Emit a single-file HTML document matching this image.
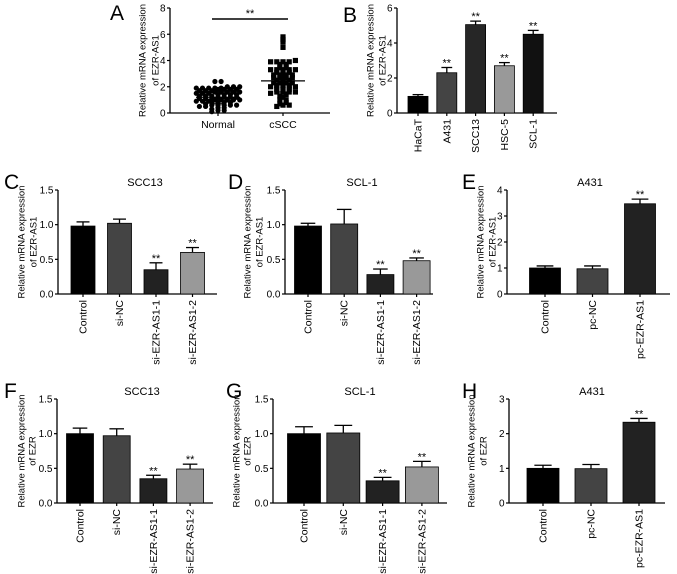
<!DOCTYPE html>
<html><head><meta charset="utf-8"><style>
html,body{margin:0;padding:0;background:#fff;}
svg{display:block;font-family:"Liberation Sans",Arial,sans-serif;}
</style></head><body>
<svg id="fig" width="677" height="574" viewBox="0 0 677 574"></svg>
<script>
// Panel A data
const normalVals=[0.1,0.2,0.2,0.3,0.4,0.4,0.5,0.5,0.6,0.6,0.6,0.6,0.6,0.7,0.8,0.8,0.8,0.8,0.9,0.9,0.9,1.0,1.0,1.0,1.0,1.0,1.1,1.1,1.1,1.2,1.2,1.2,1.2,1.3,1.3,1.3,1.4,1.4,1.4,1.4,1.5,1.5,1.5,1.6,1.6,1.6,1.6,1.6,1.7,1.7,1.7,1.8,1.8,1.8,1.8,1.9,1.9,1.9,1.9,1.9,2.0,2.0,2.0,2.4,2.4];
const csccVals=[0.5,0.6,0.6,0.7,0.8,1.0,1.0,1.2,1.3,1.4,1.5,1.6,1.6,1.6,1.6,1.8,1.8,1.8,2.0,2.0,2.0,2.0,2.0,2.1,2.1,2.1,2.3,2.3,2.3,2.3,2.5,2.5,2.5,2.7,2.7,2.7,2.7,2.9,2.9,2.9,2.9,3.1,3.1,3.1,3.3,3.3,3.3,3.3,3.3,3.5,3.5,3.7,3.7,3.9,3.9,3.9,3.9,4.0,5.0,5.4,5.6,5.8];
const groupsA=["Normal","cSCC"];
const meanA=[1.2,2.45];
const sdA=[0.5,0.85];
// Panel B
const catsB=["HaCaT","A431","SCC13","HSC-5","SCL-1"];
const valsB=[0.95,2.3,5.05,2.7,4.5];
const errB=[0.1,0.3,0.2,0.18,0.22];
const sigB=[false,true,true,true,true];
// Panels C/D/F/G
const catsSi=["Control","si-NC","si-EZR-AS1-1","si-EZR-AS1-2"];
const valsC=[0.98,1.02,0.35,0.6];
const errC=[0.06,0.06,0.1,0.07];
const valsD=[0.98,1.01,0.28,0.48];
const errD=[0.04,0.21,0.08,0.04];
const valsF=[1.0,0.97,0.35,0.49];
const errF=[0.08,0.1,0.05,0.07];
const valsG=[1.0,1.01,0.32,0.52];
const errG=[0.1,0.11,0.05,0.08];
// Panels E/H
const catsPc=["Control","pc-NC","pc-EZR-AS1"];
const valsE=[1.0,0.97,3.47];
const errE=[0.08,0.11,0.18];
const valsH=[1.0,0.99,2.33];
const errH=[0.09,0.12,0.11];
const sigSi=[false,false,true,true];
const sigPc=[false,false,true];
const ticks15=[0,0.5,1.0,1.5];
const ticks15Lbl=["0.0","0.5","1.0","1.5"];

const NS="http://www.w3.org/2000/svg";
const svg=document.getElementById('fig');
function el(tag,attrs,parent,text){const e=document.createElementNS(NS,tag);for(const k in attrs)e.setAttribute(k,attrs[k]);if(text!==undefined)e.textContent=text;(parent||svg).appendChild(e);return e;}

function axes(g,c){
  const y=v=>c.bot-(v/c.ymax)*(c.bot-c.top);
  let a=el('line',{x1:c.ax,y1:c.top,x2:c.ax,y2:c.bot,stroke:'#000','stroke-width':1.3},g);
  
  let b=el('line',{x1:c.ax,y1:c.bot,x2:c.end,y2:c.bot,stroke:'#000','stroke-width':1.3},g);
  
  c.ticks.forEach((t,i)=>{
    el('line',{x1:c.ax-3,y1:y(t),x2:c.ax,y2:y(t),stroke:'#000','stroke-width':1.2},g);
    let tl=el('text',{x:c.ax-4.5,y:y(t)+3.5,'font-size':10,'text-anchor':'end'},g,c.tickLbl[i]);
    
  });
  const mid=(c.top+c.bot)/2;
  let t1=el('text',{x:0,y:0,'font-size':9.5,'text-anchor':'middle',transform:`translate(${c.ax+c.off1+3.5},${mid}) rotate(-90)`},g,c.yl1);
  
  let t2=el('text',{x:0,y:0,'font-size':9.5,'text-anchor':'middle',transform:`translate(${c.ax+c.off2+3.5},${mid}) rotate(-90)`},g,c.yl2);
  
  return y;
}

function barPanel(c){
  const g=el('g',{},svg);
  
  const y=axes(g,c);
  let L=el('text',{x:c.lx,y:c.ly,'font-size':21},g,c.letter);
  
  if(c.title){let T=el('text',{x:c.tx,y:c.top-4,'font-size':11,'text-anchor':'middle'},g,c.title);
    }
  c.cats.forEach((cat,i)=>{
    const cx=c.x0+i*c.step, w=c.bw;
    const top=y(c.vals[i]), et=y(c.vals[i]+c.errs[i]);
    el('line',{x1:cx,y1:top,x2:cx,y2:et,stroke:'#000','stroke-width':1.3},g);
    el('line',{x1:cx-w*0.27,y1:et,x2:cx+w*0.27,y2:et,stroke:'#000','stroke-width':1.3},g);
    let r=el('rect',{x:cx-w/2,y:top,width:w,height:c.bot-top,fill:c.colors[i],stroke:'#000','stroke-width':0.8},g);
    
    el('line',{x1:cx,y1:c.bot,x2:cx,y2:c.bot+3,stroke:'#000','stroke-width':1.2},g);
    let xl=el('text',{x:0,y:0,'font-size':10.5,'text-anchor':'end',transform:`translate(${cx+3.5},${c.bot+6}) rotate(-90)`},g,cat);
    
    if(c.sig[i]){let s=el('text',{x:cx,y:et-1,'font-size':11,'text-anchor':'middle'},g,'**');
      }
  });
}

// Panel A
(function(){
  const g=el('g',{},svg);
  
  const c={ax:170,top:8,bot:113,end:330,ymax:8,ticks:[0,2,4,6,8],tickLbl:["0","2","4","6","8"],yl1:"Relative mRNA expression",yl2:"of EZR-AS1",off1:-28,off2:-15};
  const y=axes(g,c);
  let L=el('text',{x:110,y:20,'font-size':21},g,'A');
  
  const centers=[218,283];
  [normalVals,csccVals].forEach((vals,gi)=>{
    const bins={};
    vals.forEach(v=>{const k=Math.round(v*5);(bins[k]=bins[k]||[]).push(v);});
    Object.keys(bins).forEach(k=>{
      const arr=bins[k],n=arr.length;
      arr.forEach((v,i)=>{
        const x=centers[gi]+(i-(n-1)/2)*6.2, yy=y(v);
        let p;
        if(gi===0)p=el('circle',{cx:x,cy:yy,r:2.6,fill:'#000'},g);
        else p=el('rect',{x:x-2.6,y:yy-2.6,width:5.2,height:5.2,fill:'#000'},g);
        
        
      });
    });
    const cx=centers[gi];
    let m=el('line',{x1:cx-22,y1:y(meanA[gi]),x2:cx+22,y2:y(meanA[gi]),stroke:'#000','stroke-width':1.3},g);
    
    el('line',{x1:cx,y1:y(meanA[gi]-sdA[gi]),x2:cx,y2:y(meanA[gi]+sdA[gi]),stroke:'#000','stroke-width':1.2},g);
    el('line',{x1:cx-8,y1:y(meanA[gi]-sdA[gi]),x2:cx+8,y2:y(meanA[gi]-sdA[gi]),stroke:'#000','stroke-width':1.2},g);
    el('line',{x1:cx-8,y1:y(meanA[gi]+sdA[gi]),x2:cx+8,y2:y(meanA[gi]+sdA[gi]),stroke:'#000','stroke-width':1.2},g);
    el('line',{x1:cx,y1:c.bot,x2:cx,y2:c.bot+3,stroke:'#000','stroke-width':1.2},g);
    let xl=el('text',{x:cx,y:c.bot+15,'font-size':10.5,'text-anchor':'middle'},g,groupsA[gi]);
    
  });
  let sb=el('line',{x1:212,y1:19,x2:288,y2:19,stroke:'#000','stroke-width':1.4},g);
  
  let s=el('text',{x:250,y:17,'font-size':11,'text-anchor':'middle'},g,'**');
  
})();

const siCols=['#000','#444','#222','#999'];
const pcCols=['#000','#444','#222'];
barPanel({letter:'B',lx:343,ly:22,ax:397,top:8,bot:113,end:557,ymax:6,ticks:[0,2,4,6],tickLbl:["0","2","4","6"],yl1:"Relative mRNA expression",yl2:"of EZR-AS1",off1:-27,off2:-15,
  cats:catsB,vals:valsB,errs:errB,sig:sigB,colors:['#000','#444','#262626','#999','#111'],x0:418,step:28.8,bw:20});
barPanel({letter:'C',lx:4,ly:189,title:'SCC13',tx:145,ax:58,top:190,bot:294,end:217,ymax:1.5,ticks:ticks15,tickLbl:ticks15Lbl,yl1:"Relative mRNA expression",yl2:"of EZR-AS1",off1:-37,off2:-25,
  cats:catsSi,vals:valsC,errs:errC,sig:sigSi,colors:siCols,x0:83,step:36.5,bw:24});
barPanel({letter:'D',lx:228,ly:189,title:'SCL-1',tx:362,ax:285,top:190,bot:294,end:433,ymax:1.5,ticks:ticks15,tickLbl:ticks15Lbl,yl1:"Relative mRNA expression",yl2:"of EZR-AS1",off1:-38,off2:-26,
  cats:catsSi,vals:valsD,errs:errD,sig:sigSi,colors:siCols,x0:308,step:36.2,bw:27});
barPanel({letter:'E',lx:462,ly:189,title:'A431',tx:590,ax:507,top:190,bot:294,end:670,ymax:4,ticks:[0,1,2,3,4],tickLbl:["0","1","2","3","4"],yl1:"Relative mRNA expression",yl2:"of EZR-AS1",off1:-27,off2:-15,
  cats:catsPc,vals:valsE,errs:errE,sig:sigPc,colors:pcCols,x0:545,step:47.5,bw:31});
barPanel({letter:'F',lx:4,ly:398,title:'SCC13',tx:142,ax:57,top:399,bot:503,end:213,ymax:1.5,ticks:ticks15,tickLbl:ticks15Lbl,yl1:"Relative mRNA expression",yl2:"of EZR",off1:-36,off2:-25,
  cats:catsSi,vals:valsF,errs:errF,sig:sigSi,colors:siCols,x0:80,step:36.7,bw:27});
barPanel({letter:'G',lx:226,ly:398,title:'SCL-1',tx:360,ax:273,top:399,bot:503,end:447,ymax:1.5,ticks:ticks15,tickLbl:ticks15Lbl,yl1:"Relative mRNA expression",yl2:"of EZR",off1:-37,off2:-26,
  cats:catsSi,vals:valsG,errs:errG,sig:sigSi,colors:siCols,x0:304,step:39.3,bw:33});
barPanel({letter:'H',lx:462,ly:398,title:'A431',tx:592,ax:509,top:399,bot:503,end:665,ymax:3,ticks:[0,1,2,3],tickLbl:["0","1","2","3"],yl1:"Relative mRNA expression",yl2:"of EZR",off1:-38,off2:-26,
  cats:catsPc,vals:valsH,errs:errH,sig:sigPc,colors:pcCols,x0:543,step:48,bw:32});
</script>
</body></html>
